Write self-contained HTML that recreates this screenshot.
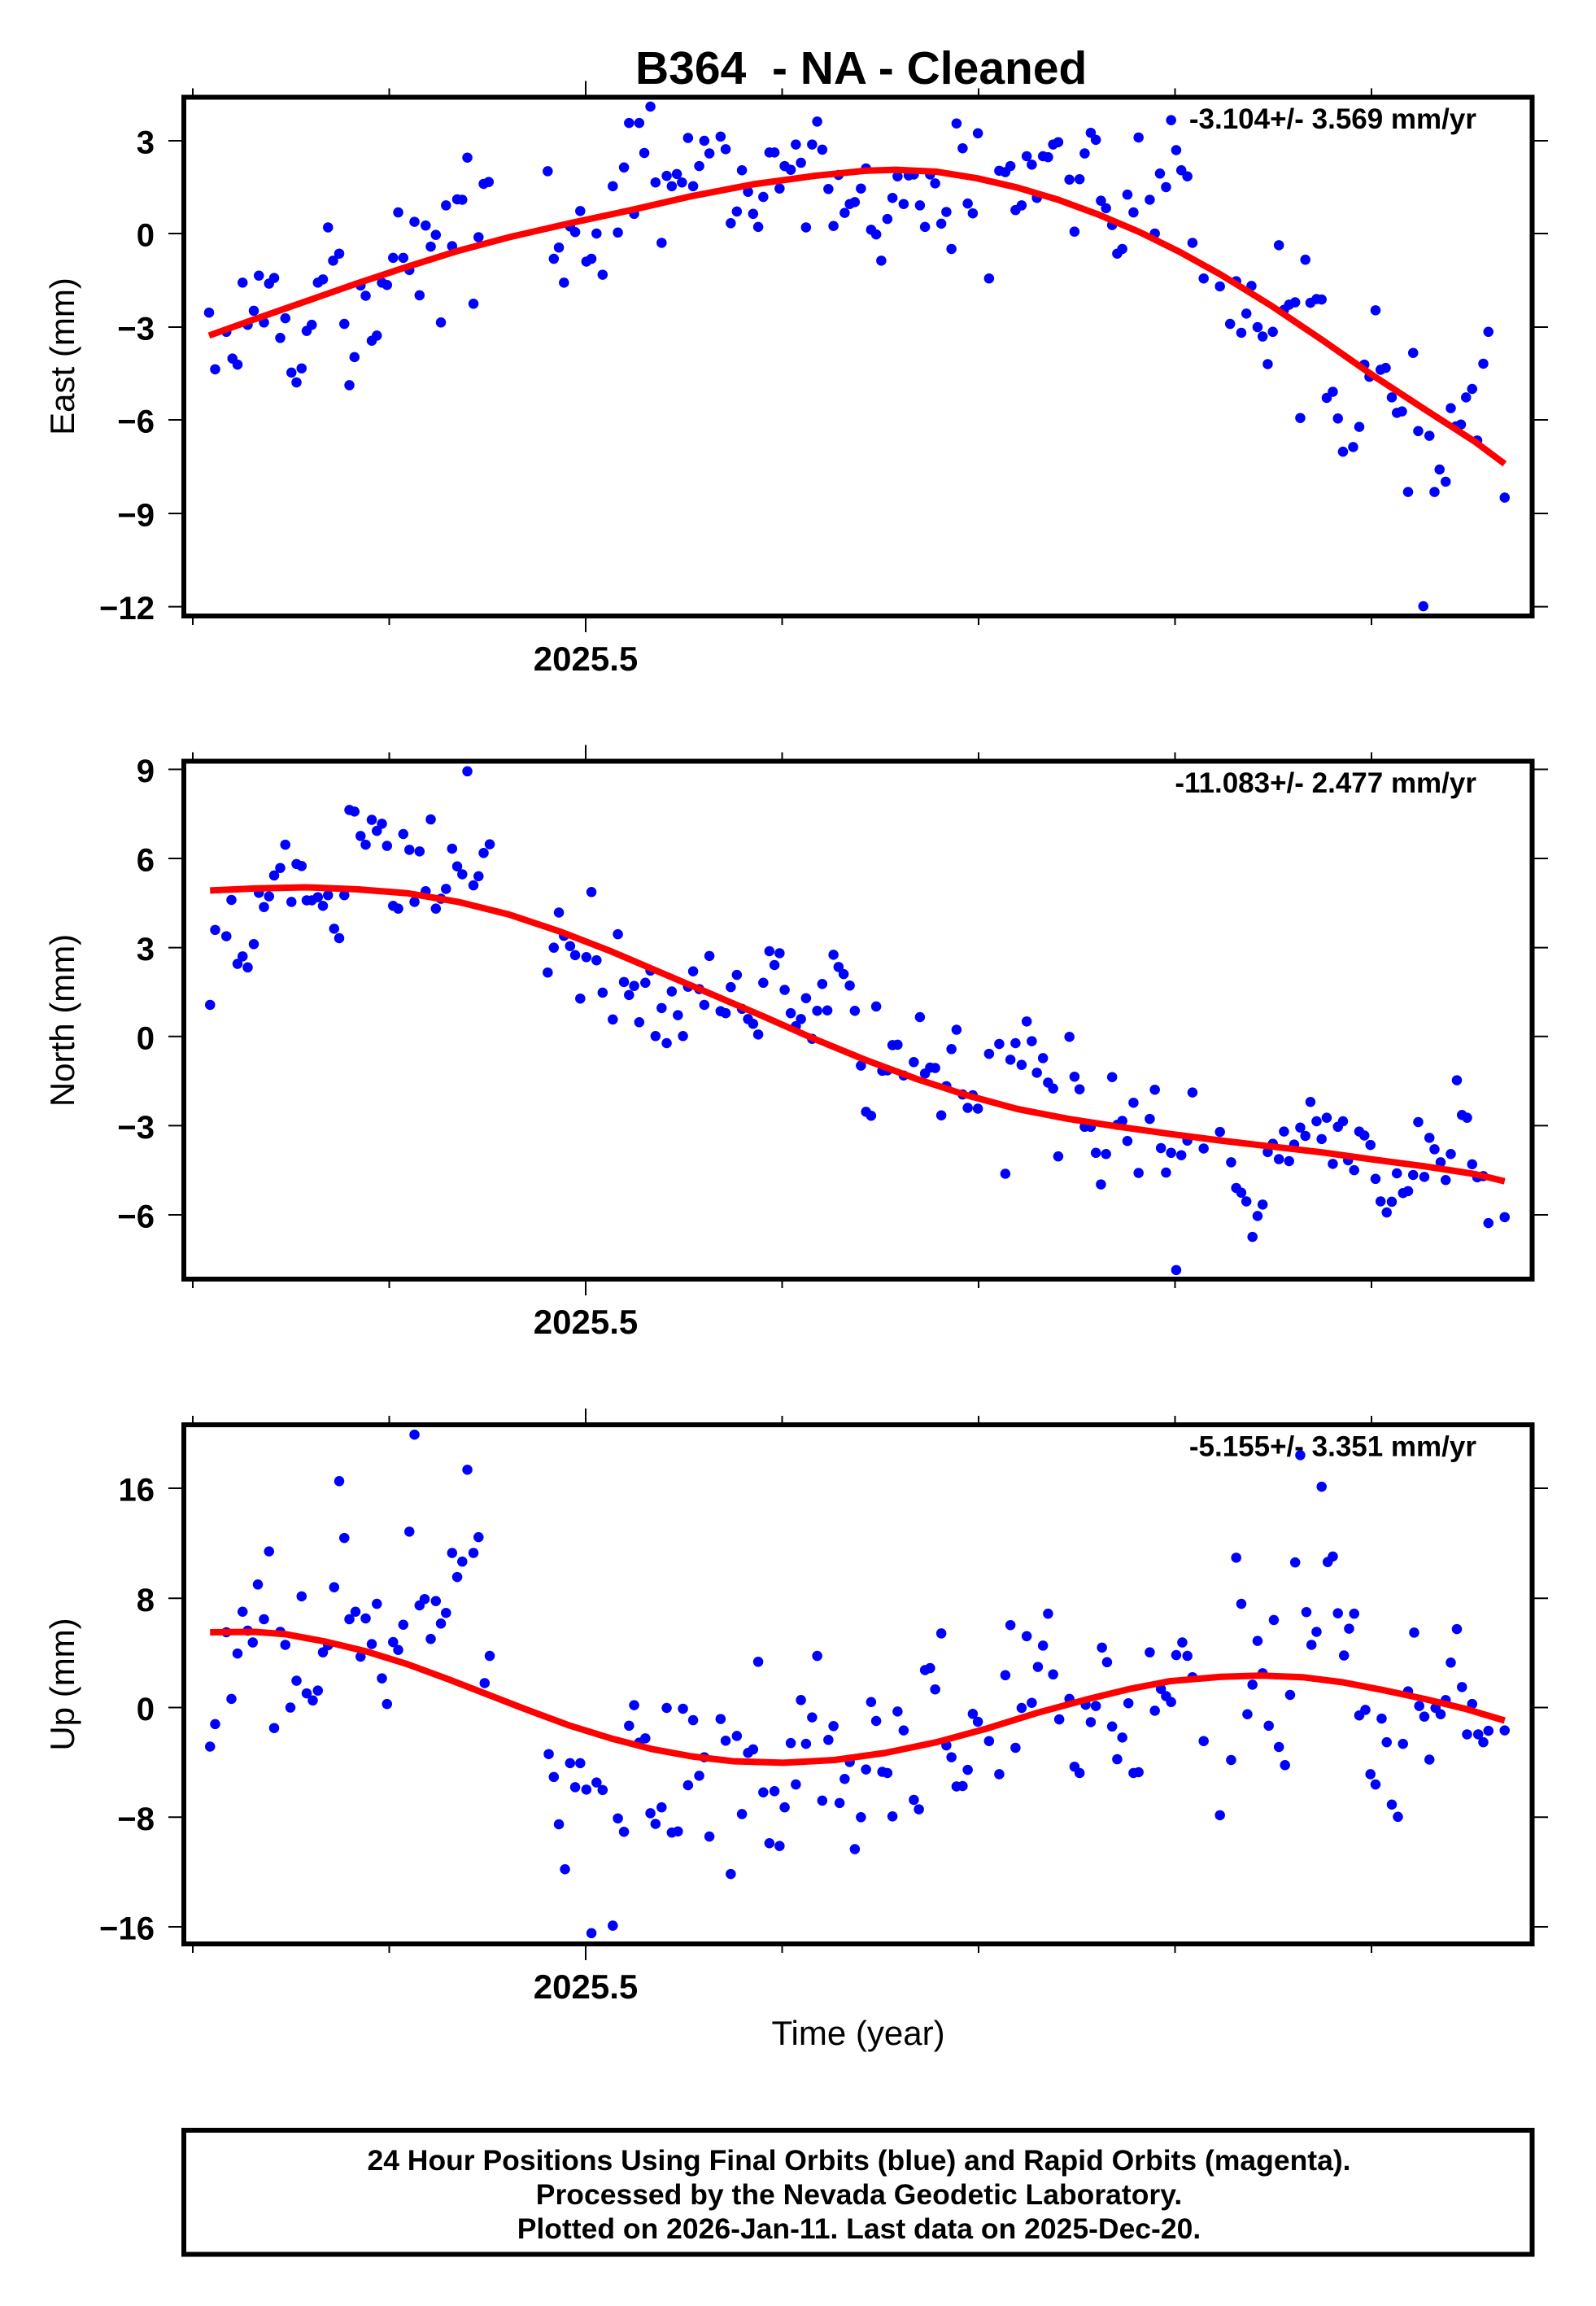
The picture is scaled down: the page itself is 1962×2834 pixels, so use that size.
<!DOCTYPE html>
<html><head><meta charset="utf-8"><style>
html,body{margin:0;padding:0;background:#fff;}
svg{display:block;}
.t{font-family:"Liberation Sans",Arial,sans-serif;font-weight:bold;fill:#000;}
.r{font-family:"Liberation Sans",Arial,sans-serif;font-weight:normal;fill:#000;}
</style></head><body>
<svg xmlns="http://www.w3.org/2000/svg" width="1962" height="2834" viewBox="0 0 1962 2834">
<rect x="0" y="0" width="1962" height="2834" fill="#fff"/>
<defs>
<ellipse id="d1" cx="0" cy="0" rx="5" ry="10.86" fill="#00f"/>
<ellipse id="d2" cx="0" cy="0" rx="5" ry="12.89" fill="#00f"/>
<ellipse id="d3" cx="0" cy="0" rx="5" ry="12.9" fill="#00f"/>
</defs>

<text class="t" x="781" y="103" font-size="57" xml:space="preserve" style="white-space:pre">B364  - NA - Cleaned</text>

<!-- PANEL 1 -->
<g transform="matrix(1.2502 0 0 0.5755 0.7 -0.8)">
<use href="#d1" x="205" y="669"/><use href="#d1" x="211" y="790"/><use href="#d1" x="222" y="710"/><use href="#d1" x="228" y="767"/><use href="#d1" x="233" y="780"/><use href="#d1" x="238" y="605"/><use href="#d1" x="243" y="695"/><use href="#d1" x="249" y="665"/><use href="#d1" x="254" y="590"/><use href="#d1" x="259" y="690"/><use href="#d1" x="264" y="607"/><use href="#d1" x="269" y="595"/><use href="#d1" x="275" y="723"/><use href="#d1" x="280" y="681"/><use href="#d1" x="286" y="797"/><use href="#d1" x="291" y="818"/><use href="#d1" x="296" y="788"/><use href="#d1" x="301" y="708"/><use href="#d1" x="306" y="695"/><use href="#d1" x="312" y="605"/><use href="#d1" x="317" y="598"/><use href="#d1" x="322" y="487"/><use href="#d1" x="327" y="558"/><use href="#d1" x="333" y="543"/><use href="#d1" x="338" y="693"/><use href="#d1" x="343" y="824"/><use href="#d1" x="348" y="764"/><use href="#d1" x="354" y="611"/><use href="#d1" x="359" y="633"/><use href="#d1" x="365" y="729"/><use href="#d1" x="370" y="718"/><use href="#d1" x="375" y="605"/><use href="#d1" x="380" y="610"/><use href="#d1" x="386" y="552"/><use href="#d1" x="391" y="455"/><use href="#d1" x="396" y="552"/><use href="#d1" x="402" y="578"/><use href="#d1" x="407" y="475"/><use href="#d1" x="412" y="632"/><use href="#d1" x="418" y="483"/><use href="#d1" x="423" y="528"/><use href="#d1" x="428" y="503"/><use href="#d1" x="433" y="690"/><use href="#d1" x="438" y="440"/><use href="#d1" x="444" y="527"/><use href="#d1" x="449" y="427"/><use href="#d1" x="454" y="428"/><use href="#d1" x="459" y="338"/><use href="#d1" x="465" y="650"/><use href="#d1" x="470" y="508"/><use href="#d1" x="475" y="394"/><use href="#d1" x="480" y="390"/>
<use href="#d1" x="538" y="367"/><use href="#d1" x="544" y="554"/><use href="#d1" x="549" y="530"/><use href="#d1" x="554" y="605"/><use href="#d1" x="560" y="485"/><use href="#d1" x="565" y="497"/><use href="#d1" x="570" y="452"/><use href="#d1" x="576" y="560"/><use href="#d1" x="581" y="554"/><use href="#d1" x="586" y="500"/><use href="#d1" x="592" y="588"/><use href="#d1" x="602" y="399"/><use href="#d1" x="607" y="498"/><use href="#d1" x="613" y="359"/><use href="#d1" x="618" y="264"/><use href="#d1" x="623" y="458"/><use href="#d1" x="628" y="264"/><use href="#d1" x="633" y="328"/><use href="#d1" x="639" y="229"/><use href="#d1" x="644" y="391"/><use href="#d1" x="650" y="520"/><use href="#d1" x="655" y="377"/><use href="#d1" x="660" y="399"/><use href="#d1" x="665" y="373"/><use href="#d1" x="670" y="391"/><use href="#d1" x="676" y="296"/><use href="#d1" x="681" y="399"/><use href="#d1" x="687" y="356"/><use href="#d1" x="692" y="302"/><use href="#d1" x="697" y="329"/><use href="#d1" x="708" y="293"/><use href="#d1" x="713" y="320"/><use href="#d1" x="718" y="478"/><use href="#d1" x="724" y="453"/><use href="#d1" x="729" y="365"/><use href="#d1" x="735" y="411"/><use href="#d1" x="740" y="458"/><use href="#d1" x="745" y="486"/><use href="#d1" x="750" y="422"/><use href="#d1" x="756" y="327"/><use href="#d1" x="761" y="327"/><use href="#d1" x="766" y="404"/><use href="#d1" x="771" y="356"/><use href="#d1" x="777" y="364"/><use href="#d1" x="782" y="310"/><use href="#d1" x="787" y="349"/><use href="#d1" x="792" y="487"/><use href="#d1" x="798" y="310"/><use href="#d1" x="803" y="261"/><use href="#d1" x="808" y="321"/><use href="#d1" x="814" y="405"/><use href="#d1" x="819" y="484"/><use href="#d1" x="824" y="375"/><use href="#d1" x="830" y="456"/><use href="#d1" x="835" y="437"/><use href="#d1" x="840" y="433"/><use href="#d1" x="846" y="404"/><use href="#d1" x="851" y="361"/><use href="#d1" x="856" y="492"/><use href="#d1" x="861" y="502"/><use href="#d1" x="866" y="558"/><use href="#d1" x="872" y="469"/><use href="#d1" x="877" y="424"/><use href="#d1" x="882" y="378"/><use href="#d1" x="888" y="437"/><use href="#d1" x="893" y="376"/><use href="#d1" x="898" y="374"/><use href="#d1" x="904" y="440"/><use href="#d1" x="909" y="486"/><use href="#d1" x="914" y="374"/><use href="#d1" x="919" y="393"/><use href="#d1" x="925" y="479"/><use href="#d1" x="930" y="454"/><use href="#d1" x="935" y="533"/><use href="#d1" x="940" y="265"/><use href="#d1" x="946" y="318"/><use href="#d1" x="951" y="436"/><use href="#d1" x="956" y="457"/><use href="#d1" x="961" y="286"/><use href="#d1" x="972" y="596"/><use href="#d1" x="982" y="366"/><use href="#d1" x="988" y="369"/><use href="#d1" x="993" y="356"/><use href="#d1" x="998" y="450"/><use href="#d1" x="1004" y="440"/><use href="#d1" x="1009" y="335"/><use href="#d1" x="1014" y="353"/><use href="#d1" x="1019" y="424"/><use href="#d1" x="1025" y="335"/><use href="#d1" x="1030" y="337"/><use href="#d1" x="1035" y="310"/><use href="#d1" x="1040" y="305"/><use href="#d1" x="1051" y="385"/><use href="#d1" x="1056" y="496"/><use href="#d1" x="1061" y="384"/><use href="#d1" x="1066" y="329"/><use href="#d1" x="1072" y="285"/><use href="#d1" x="1077" y="300"/><use href="#d1" x="1082" y="430"/><use href="#d1" x="1087" y="446"/><use href="#d1" x="1093" y="482"/><use href="#d1" x="1098" y="543"/><use href="#d1" x="1103" y="533"/><use href="#d1" x="1108" y="417"/><use href="#d1" x="1114" y="455"/><use href="#d1" x="1119" y="295"/><use href="#d1" x="1130" y="428"/><use href="#d1" x="1135" y="500"/><use href="#d1" x="1140" y="372"/><use href="#d1" x="1146" y="401"/><use href="#d1" x="1151" y="258"/><use href="#d1" x="1156" y="322"/><use href="#d1" x="1161" y="365"/><use href="#d1" x="1167" y="378"/><use href="#d1" x="1172" y="520"/><use href="#d1" x="1183" y="596"/><use href="#d1" x="1199" y="613"/><use href="#d1" x="1209" y="693"/><use href="#d1" x="1215" y="602"/><use href="#d1" x="1220" y="712"/><use href="#d1" x="1225" y="671"/><use href="#d1" x="1230" y="612"/><use href="#d1" x="1236" y="700"/><use href="#d1" x="1241" y="720"/><use href="#d1" x="1246" y="779"/><use href="#d1" x="1251" y="710"/><use href="#d1" x="1257" y="525"/><use href="#d1" x="1262" y="663"/><use href="#d1" x="1267" y="652"/><use href="#d1" x="1273" y="647"/><use href="#d1" x="1278" y="894"/><use href="#d1" x="1283" y="556"/><use href="#d1" x="1288" y="648"/><use href="#d1" x="1294" y="640"/><use href="#d1" x="1299" y="641"/><use href="#d1" x="1304" y="851"/><use href="#d1" x="1310" y="838"/><use href="#d1" x="1315" y="895"/><use href="#d1" x="1320" y="966"/><use href="#d1" x="1330" y="956"/><use href="#d1" x="1336" y="913"/><use href="#d1" x="1341" y="780"/><use href="#d1" x="1346" y="806"/><use href="#d1" x="1352" y="664"/><use href="#d1" x="1357" y="791"/><use href="#d1" x="1362" y="787"/><use href="#d1" x="1368" y="850"/><use href="#d1" x="1373" y="883"/><use href="#d1" x="1378" y="880"/><use href="#d1" x="1384" y="1052"/><use href="#d1" x="1389" y="755"/><use href="#d1" x="1394" y="922"/><use href="#d1" x="1399" y="1296"/><use href="#d1" x="1405" y="932"/><use href="#d1" x="1410" y="1052"/><use href="#d1" x="1415" y="1004"/><use href="#d1" x="1421" y="1030"/><use href="#d1" x="1426" y="873"/><use href="#d1" x="1431" y="912"/><use href="#d1" x="1436" y="908"/><use href="#d1" x="1441" y="850"/><use href="#d1" x="1447" y="832"/><use href="#d1" x="1452" y="942"/><use href="#d1" x="1458" y="778"/><use href="#d1" x="1463" y="710"/><use href="#d1" x="1479" y="1064"/>
<polyline fill="none" stroke="#f00" stroke-width="8" stroke-linejoin="round" vector-effect="non-scaling-stroke" points="205,718 250,683 300,645 350,607 400,571 450,537 500,508 560,478 620,450 680,420 740,395 800,377 850,366 880,364 920,368 960,382 1000,402 1040,428 1080,460 1120,497 1160,540 1200,588 1250,655 1300,728 1350,804 1400,875 1450,945 1479,992"/>
</g>
<rect x="226" y="119.5" width="1657.5" height="637.5" fill="none" stroke="#000" stroke-width="6"/>
<path fill="none" stroke="#000" stroke-width="2" d="M237 108.5V116.5M478.5 108.5V116.5M720 99.5V116.5M961.5 108.5V116.5M1203 108.5V116.5M1444.5 108.5V116.5M1686 108.5V116.5M237 760V768M478.5 760V768M720 760V777M961.5 760V768M1203 760V768M1444.5 760V768M1686 760V768M207 173H223M207 287H223M207 402H223M207 516H223M207 631H223M207 745.6H223M1886.5 173H1903M1886.5 287H1903M1886.5 402H1903M1886.5 516H1903M1886.5 631H1903M1886.5 745.6H1903"/>
<g class="t" font-size="40" text-anchor="end">
<text x="190" y="188.5">3</text><text x="190" y="302.5">0</text><text x="190" y="417.5">−3</text><text x="190" y="531.5">−6</text><text x="190" y="646.5">−9</text><text x="190" y="761">−12</text>
</g>
<text class="t" x="720" y="824" font-size="42" text-anchor="middle">2025.5</text>
<text class="t" x="1815" y="158" font-size="35" text-anchor="end">-3.104+/- 3.569 mm/yr</text>
<text class="r" font-size="42" text-anchor="middle" transform="translate(91 438) rotate(-90)">East (mm)</text>

<!-- PANEL 2 -->
<g transform="matrix(1.2502 0 0 0.4849 0.7 880.5)">
<use href="#d2" x="206" y="731"/><use href="#d2" x="211" y="541"/><use href="#d2" x="222" y="557"/><use href="#d2" x="227" y="465"/><use href="#d2" x="233" y="627"/><use href="#d2" x="238" y="608"/><use href="#d2" x="243" y="636"/><use href="#d2" x="249" y="577"/><use href="#d2" x="254" y="447"/><use href="#d2" x="259" y="483"/><use href="#d2" x="264" y="456"/><use href="#d2" x="269" y="403"/><use href="#d2" x="275" y="384"/><use href="#d2" x="280" y="325"/><use href="#d2" x="286" y="470"/><use href="#d2" x="291" y="374"/><use href="#d2" x="296" y="379"/><use href="#d2" x="301" y="466"/><use href="#d2" x="306" y="466"/><use href="#d2" x="312" y="458"/><use href="#d2" x="317" y="480"/><use href="#d2" x="322" y="453"/><use href="#d2" x="328" y="538"/><use href="#d2" x="333" y="562"/><use href="#d2" x="338" y="453"/><use href="#d2" x="343" y="237"/><use href="#d2" x="348" y="241"/><use href="#d2" x="354" y="303"/><use href="#d2" x="359" y="325"/><use href="#d2" x="365" y="262"/><use href="#d2" x="370" y="290"/><use href="#d2" x="375" y="272"/><use href="#d2" x="380" y="328"/><use href="#d2" x="386" y="480"/><use href="#d2" x="391" y="487"/><use href="#d2" x="396" y="298"/><use href="#d2" x="402" y="338"/><use href="#d2" x="407" y="470"/><use href="#d2" x="412" y="342"/><use href="#d2" x="418" y="443"/><use href="#d2" x="423" y="261"/><use href="#d2" x="428" y="487"/><use href="#d2" x="433" y="462"/><use href="#d2" x="438" y="437"/><use href="#d2" x="444" y="335"/><use href="#d2" x="449" y="380"/><use href="#d2" x="454" y="400"/><use href="#d2" x="459" y="139"/><use href="#d2" x="465" y="428"/><use href="#d2" x="470" y="405"/><use href="#d2" x="475" y="346"/><use href="#d2" x="481" y="324"/>
<use href="#d2" x="538" y="649"/><use href="#d2" x="544" y="586"/><use href="#d2" x="549" y="497"/><use href="#d2" x="554" y="556"/><use href="#d2" x="560" y="582"/><use href="#d2" x="565" y="605"/><use href="#d2" x="570" y="715"/><use href="#d2" x="576" y="610"/><use href="#d2" x="581" y="445"/><use href="#d2" x="586" y="618"/><use href="#d2" x="592" y="700"/><use href="#d2" x="602" y="768"/><use href="#d2" x="607" y="552"/><use href="#d2" x="613" y="673"/><use href="#d2" x="618" y="706"/><use href="#d2" x="623" y="683"/><use href="#d2" x="628" y="775"/><use href="#d2" x="634" y="675"/><use href="#d2" x="639" y="644"/><use href="#d2" x="644" y="810"/><use href="#d2" x="650" y="739"/><use href="#d2" x="655" y="828"/><use href="#d2" x="660" y="697"/><use href="#d2" x="666" y="757"/><use href="#d2" x="671" y="810"/><use href="#d2" x="676" y="685"/><use href="#d2" x="681" y="646"/><use href="#d2" x="687" y="691"/><use href="#d2" x="692" y="731"/><use href="#d2" x="697" y="607"/><use href="#d2" x="708" y="747"/><use href="#d2" x="713" y="752"/><use href="#d2" x="718" y="686"/><use href="#d2" x="724" y="655"/><use href="#d2" x="729" y="741"/><use href="#d2" x="735" y="767"/><use href="#d2" x="740" y="779"/><use href="#d2" x="745" y="806"/><use href="#d2" x="750" y="675"/><use href="#d2" x="756" y="595"/><use href="#d2" x="761" y="630"/><use href="#d2" x="766" y="600"/><use href="#d2" x="771" y="693"/><use href="#d2" x="777" y="752"/><use href="#d2" x="782" y="785"/><use href="#d2" x="787" y="767"/><use href="#d2" x="792" y="714"/><use href="#d2" x="798" y="817"/><use href="#d2" x="803" y="746"/><use href="#d2" x="808" y="678"/><use href="#d2" x="813" y="745"/><use href="#d2" x="819" y="604"/><use href="#d2" x="824" y="635"/><use href="#d2" x="829" y="653"/><use href="#d2" x="835" y="682"/><use href="#d2" x="840" y="746"/><use href="#d2" x="846" y="885"/><use href="#d2" x="851" y="1002"/><use href="#d2" x="856" y="1012"/><use href="#d2" x="861" y="735"/><use href="#d2" x="867" y="898"/><use href="#d2" x="872" y="897"/><use href="#d2" x="877" y="833"/><use href="#d2" x="882" y="832"/><use href="#d2" x="888" y="910"/><use href="#d2" x="898" y="876"/><use href="#d2" x="904" y="762"/><use href="#d2" x="909" y="905"/><use href="#d2" x="914" y="890"/><use href="#d2" x="919" y="891"/><use href="#d2" x="925" y="1011"/><use href="#d2" x="930" y="937"/><use href="#d2" x="935" y="843"/><use href="#d2" x="940" y="794"/><use href="#d2" x="946" y="958"/><use href="#d2" x="951" y="992"/><use href="#d2" x="956" y="960"/><use href="#d2" x="961" y="994"/><use href="#d2" x="972" y="855"/><use href="#d2" x="982" y="830"/><use href="#d2" x="988" y="1159"/><use href="#d2" x="993" y="870"/><use href="#d2" x="998" y="828"/><use href="#d2" x="1004" y="883"/><use href="#d2" x="1009" y="773"/><use href="#d2" x="1014" y="823"/><use href="#d2" x="1019" y="903"/><use href="#d2" x="1025" y="866"/><use href="#d2" x="1030" y="928"/><use href="#d2" x="1035" y="943"/><use href="#d2" x="1040" y="1115"/><use href="#d2" x="1051" y="812"/><use href="#d2" x="1056" y="913"/><use href="#d2" x="1061" y="945"/><use href="#d2" x="1066" y="1040"/><use href="#d2" x="1072" y="1040"/><use href="#d2" x="1077" y="1106"/><use href="#d2" x="1082" y="1186"/><use href="#d2" x="1087" y="1109"/><use href="#d2" x="1093" y="914"/><use href="#d2" x="1098" y="1035"/><use href="#d2" x="1103" y="1025"/><use href="#d2" x="1108" y="1076"/><use href="#d2" x="1114" y="979"/><use href="#d2" x="1119" y="1157"/><use href="#d2" x="1130" y="1020"/><use href="#d2" x="1135" y="946"/><use href="#d2" x="1141" y="1094"/><use href="#d2" x="1146" y="1156"/><use href="#d2" x="1151" y="1106"/><use href="#d2" x="1156" y="1403"/><use href="#d2" x="1161" y="1112"/><use href="#d2" x="1167" y="1075"/><use href="#d2" x="1172" y="953"/><use href="#d2" x="1183" y="1095"/><use href="#d2" x="1199" y="1053"/><use href="#d2" x="1210" y="1130"/><use href="#d2" x="1215" y="1195"/><use href="#d2" x="1220" y="1207"/><use href="#d2" x="1225" y="1229"/><use href="#d2" x="1231" y="1319"/><use href="#d2" x="1236" y="1266"/><use href="#d2" x="1241" y="1237"/><use href="#d2" x="1246" y="1104"/><use href="#d2" x="1251" y="1083"/><use href="#d2" x="1257" y="1122"/><use href="#d2" x="1262" y="1052"/><use href="#d2" x="1267" y="1127"/><use href="#d2" x="1272" y="1085"/><use href="#d2" x="1278" y="1042"/><use href="#d2" x="1283" y="1063"/><use href="#d2" x="1288" y="977"/><use href="#d2" x="1294" y="1026"/><use href="#d2" x="1299" y="1071"/><use href="#d2" x="1304" y="1017"/><use href="#d2" x="1310" y="1134"/><use href="#d2" x="1315" y="1040"/><use href="#d2" x="1320" y="1026"/><use href="#d2" x="1325" y="1125"/><use href="#d2" x="1331" y="1150"/><use href="#d2" x="1336" y="1052"/><use href="#d2" x="1341" y="1062"/><use href="#d2" x="1347" y="1086"/><use href="#d2" x="1352" y="1172"/><use href="#d2" x="1357" y="1229"/><use href="#d2" x="1363" y="1257"/><use href="#d2" x="1368" y="1230"/><use href="#d2" x="1373" y="1158"/><use href="#d2" x="1379" y="1208"/><use href="#d2" x="1384" y="1203"/><use href="#d2" x="1389" y="1162"/><use href="#d2" x="1394" y="1028"/><use href="#d2" x="1400" y="1167"/><use href="#d2" x="1405" y="1068"/><use href="#d2" x="1410" y="1097"/><use href="#d2" x="1416" y="1130"/><use href="#d2" x="1421" y="1175"/><use href="#d2" x="1426" y="1109"/><use href="#d2" x="1432" y="922"/><use href="#d2" x="1437" y="1010"/><use href="#d2" x="1442" y="1017"/><use href="#d2" x="1447" y="1135"/><use href="#d2" x="1452" y="1168"/><use href="#d2" x="1458" y="1165"/><use href="#d2" x="1463" y="1284"/><use href="#d2" x="1479" y="1269"/>
<polyline fill="none" stroke="#f00" stroke-width="8" stroke-linejoin="round" vector-effect="non-scaling-stroke" points="206,441 250,436 300,433 350,438 400,448 450,470 500,502 550,545 600,595 650,650 700,705 750,760 800,817 850,870 900,918 950,960 1000,995 1050,1020 1100,1040 1150,1058 1200,1075 1250,1090 1300,1105 1350,1123 1400,1140 1450,1160 1479,1178"/>
</g>
<rect x="226" y="935.5" width="1657.5" height="636.5" fill="none" stroke="#000" stroke-width="6"/>
<path fill="none" stroke="#000" stroke-width="2" d="M237 924.5V932.5M478.5 924.5V932.5M720 915.5V932.5M961.5 924.5V932.5M1203 924.5V932.5M1444.5 924.5V932.5M1686 924.5V932.5M237 1575V1583M478.5 1575V1583M720 1575V1592M961.5 1575V1583M1203 1575V1583M1444.5 1575V1583M1686 1575V1583M207 945.5H223M207 1055H223M207 1164.6H223M207 1273.8H223M207 1383.4H223M207 1493H223M1886.5 945.5H1903M1886.5 1055H1903M1886.5 1164.6H1903M1886.5 1273.8H1903M1886.5 1383.4H1903M1886.5 1493H1903"/>
<g class="t" font-size="40" text-anchor="end">
<text x="190" y="961">9</text><text x="190" y="1070.5">6</text><text x="190" y="1180">3</text><text x="190" y="1289.3">0</text><text x="190" y="1399">−3</text><text x="190" y="1508.5">−6</text>
</g>
<text class="t" x="720" y="1639" font-size="42" text-anchor="middle">2025.5</text>
<text class="t" x="1815" y="974" font-size="35" text-anchor="end">-11.083+/- 2.477 mm/yr</text>
<text class="r" font-size="42" text-anchor="middle" transform="translate(91 1254) rotate(-90)">North (mm)</text>

<!-- PANEL 3 -->
<g transform="matrix(1.2502 0 0 0.4847 0.7 1700.1)">
<use href="#d3" x="206" y="921"/><use href="#d3" x="211" y="864"/><use href="#d3" x="222" y="631"/><use href="#d3" x="227" y="800"/><use href="#d3" x="233" y="685"/><use href="#d3" x="238" y="579"/><use href="#d3" x="243" y="627"/><use href="#d3" x="248" y="657"/><use href="#d3" x="253" y="510"/><use href="#d3" x="259" y="598"/><use href="#d3" x="264" y="426"/><use href="#d3" x="269" y="874"/><use href="#d3" x="275" y="630"/><use href="#d3" x="280" y="663"/><use href="#d3" x="285" y="822"/><use href="#d3" x="291" y="754"/><use href="#d3" x="296" y="540"/><use href="#d3" x="301" y="786"/><use href="#d3" x="307" y="804"/><use href="#d3" x="312" y="779"/><use href="#d3" x="317" y="682"/><use href="#d3" x="322" y="664"/><use href="#d3" x="328" y="517"/><use href="#d3" x="333" y="248"/><use href="#d3" x="338" y="392"/><use href="#d3" x="343" y="598"/><use href="#d3" x="349" y="579"/><use href="#d3" x="354" y="693"/><use href="#d3" x="359" y="596"/><use href="#d3" x="365" y="661"/><use href="#d3" x="370" y="559"/><use href="#d3" x="375" y="748"/><use href="#d3" x="380" y="813"/><use href="#d3" x="386" y="656"/><use href="#d3" x="391" y="676"/><use href="#d3" x="396" y="612"/><use href="#d3" x="402" y="376"/><use href="#d3" x="407" y="130"/><use href="#d3" x="412" y="563"/><use href="#d3" x="417" y="547"/><use href="#d3" x="423" y="648"/><use href="#d3" x="428" y="552"/><use href="#d3" x="433" y="609"/><use href="#d3" x="438" y="582"/><use href="#d3" x="444" y="430"/><use href="#d3" x="449" y="491"/><use href="#d3" x="454" y="452"/><use href="#d3" x="459" y="219"/><use href="#d3" x="465" y="430"/><use href="#d3" x="470" y="390"/><use href="#d3" x="476" y="760"/><use href="#d3" x="481" y="691"/>
<use href="#d3" x="539" y="940"/><use href="#d3" x="544" y="998"/><use href="#d3" x="549" y="1118"/><use href="#d3" x="555" y="1232"/><use href="#d3" x="560" y="963"/><use href="#d3" x="565" y="1024"/><use href="#d3" x="570" y="963"/><use href="#d3" x="576" y="1030"/><use href="#d3" x="581" y="1394"/><use href="#d3" x="586" y="1012"/><use href="#d3" x="592" y="1031"/><use href="#d3" x="602" y="1375"/><use href="#d3" x="607" y="1103"/><use href="#d3" x="613" y="1137"/><use href="#d3" x="618" y="868"/><use href="#d3" x="623" y="816"/><use href="#d3" x="628" y="911"/><use href="#d3" x="634" y="900"/><use href="#d3" x="639" y="1090"/><use href="#d3" x="644" y="1117"/><use href="#d3" x="650" y="1075"/><use href="#d3" x="655" y="823"/><use href="#d3" x="660" y="1139"/><use href="#d3" x="666" y="1136"/><use href="#d3" x="671" y="825"/><use href="#d3" x="676" y="1019"/><use href="#d3" x="681" y="854"/><use href="#d3" x="687" y="995"/><use href="#d3" x="692" y="948"/><use href="#d3" x="697" y="1149"/><use href="#d3" x="708" y="851"/><use href="#d3" x="713" y="906"/><use href="#d3" x="718" y="1244"/><use href="#d3" x="724" y="894"/><use href="#d3" x="729" y="1092"/><use href="#d3" x="735" y="937"/><use href="#d3" x="740" y="928"/><use href="#d3" x="745" y="706"/><use href="#d3" x="750" y="1037"/><use href="#d3" x="756" y="1166"/><use href="#d3" x="761" y="1034"/><use href="#d3" x="766" y="1173"/><use href="#d3" x="771" y="1075"/><use href="#d3" x="777" y="912"/><use href="#d3" x="782" y="1017"/><use href="#d3" x="787" y="803"/><use href="#d3" x="792" y="914"/><use href="#d3" x="798" y="847"/><use href="#d3" x="803" y="691"/><use href="#d3" x="808" y="1058"/><use href="#d3" x="814" y="904"/><use href="#d3" x="819" y="869"/><use href="#d3" x="825" y="1064"/><use href="#d3" x="830" y="1003"/><use href="#d3" x="835" y="960"/><use href="#d3" x="840" y="1181"/><use href="#d3" x="846" y="1100"/><use href="#d3" x="851" y="979"/><use href="#d3" x="856" y="808"/><use href="#d3" x="861" y="856"/><use href="#d3" x="867" y="985"/><use href="#d3" x="872" y="988"/><use href="#d3" x="877" y="1098"/><use href="#d3" x="882" y="832"/><use href="#d3" x="888" y="880"/><use href="#d3" x="898" y="1056"/><use href="#d3" x="903" y="1080"/><use href="#d3" x="909" y="727"/><use href="#d3" x="914" y="722"/><use href="#d3" x="919" y="776"/><use href="#d3" x="925" y="634"/><use href="#d3" x="930" y="918"/><use href="#d3" x="935" y="948"/><use href="#d3" x="940" y="1022"/><use href="#d3" x="946" y="1021"/><use href="#d3" x="951" y="980"/><use href="#d3" x="956" y="838"/><use href="#d3" x="961" y="858"/><use href="#d3" x="972" y="907"/><use href="#d3" x="982" y="991"/><use href="#d3" x="988" y="740"/><use href="#d3" x="993" y="613"/><use href="#d3" x="998" y="924"/><use href="#d3" x="1004" y="823"/><use href="#d3" x="1009" y="641"/><use href="#d3" x="1014" y="810"/><use href="#d3" x="1020" y="719"/><use href="#d3" x="1025" y="665"/><use href="#d3" x="1030" y="584"/><use href="#d3" x="1035" y="738"/><use href="#d3" x="1041" y="852"/><use href="#d3" x="1051" y="800"/><use href="#d3" x="1056" y="972"/><use href="#d3" x="1061" y="988"/><use href="#d3" x="1067" y="815"/><use href="#d3" x="1072" y="859"/><use href="#d3" x="1077" y="818"/><use href="#d3" x="1083" y="670"/><use href="#d3" x="1088" y="707"/><use href="#d3" x="1093" y="870"/><use href="#d3" x="1098" y="953"/><use href="#d3" x="1103" y="898"/><use href="#d3" x="1109" y="811"/><use href="#d3" x="1114" y="988"/><use href="#d3" x="1119" y="986"/><use href="#d3" x="1130" y="682"/><use href="#d3" x="1135" y="830"/><use href="#d3" x="1141" y="775"/><use href="#d3" x="1146" y="793"/><use href="#d3" x="1151" y="808"/><use href="#d3" x="1156" y="689"/><use href="#d3" x="1162" y="657"/><use href="#d3" x="1167" y="691"/><use href="#d3" x="1172" y="745"/><use href="#d3" x="1183" y="907"/><use href="#d3" x="1199" y="1095"/><use href="#d3" x="1210" y="955"/><use href="#d3" x="1215" y="442"/><use href="#d3" x="1220" y="559"/><use href="#d3" x="1226" y="839"/><use href="#d3" x="1231" y="764"/><use href="#d3" x="1236" y="653"/><use href="#d3" x="1241" y="735"/><use href="#d3" x="1247" y="868"/><use href="#d3" x="1252" y="600"/><use href="#d3" x="1257" y="922"/><use href="#d3" x="1263" y="968"/><use href="#d3" x="1268" y="790"/><use href="#d3" x="1273" y="454"/><use href="#d3" x="1278" y="182"/><use href="#d3" x="1284" y="580"/><use href="#d3" x="1289" y="663"/><use href="#d3" x="1294" y="630"/><use href="#d3" x="1299" y="262"/><use href="#d3" x="1305" y="453"/><use href="#d3" x="1310" y="439"/><use href="#d3" x="1315" y="583"/><use href="#d3" x="1321" y="690"/><use href="#d3" x="1326" y="622"/><use href="#d3" x="1331" y="584"/><use href="#d3" x="1336" y="842"/><use href="#d3" x="1342" y="828"/><use href="#d3" x="1347" y="991"/><use href="#d3" x="1352" y="1017"/><use href="#d3" x="1358" y="850"/><use href="#d3" x="1363" y="910"/><use href="#d3" x="1368" y="1068"/><use href="#d3" x="1374" y="1099"/><use href="#d3" x="1379" y="914"/><use href="#d3" x="1384" y="781"/><use href="#d3" x="1390" y="632"/><use href="#d3" x="1395" y="818"/><use href="#d3" x="1400" y="845"/><use href="#d3" x="1405" y="954"/><use href="#d3" x="1411" y="823"/><use href="#d3" x="1416" y="839"/><use href="#d3" x="1421" y="803"/><use href="#d3" x="1426" y="708"/><use href="#d3" x="1432" y="623"/><use href="#d3" x="1437" y="770"/><use href="#d3" x="1442" y="890"/><use href="#d3" x="1447" y="813"/><use href="#d3" x="1453" y="890"/><use href="#d3" x="1458" y="910"/><use href="#d3" x="1463" y="881"/><use href="#d3" x="1479" y="880"/>
<polyline fill="none" stroke="#f00" stroke-width="8" stroke-linejoin="round" vector-effect="non-scaling-stroke" points="206,631 250,630 280,636 320,655 360,680 400,712 440,750 480,790 520,830 560,868 600,900 640,927 680,946 720,958 770,962 820,955 870,937 920,910 970,875 1020,835 1070,800 1110,775 1150,755 1200,744 1240,741 1280,745 1320,758 1360,778 1400,800 1440,825 1479,855"/>
</g>
<rect x="226" y="1751" width="1657.5" height="638" fill="none" stroke="#000" stroke-width="6"/>
<path fill="none" stroke="#000" stroke-width="2" d="M237 1740V1748M478.5 1740V1748M720 1731V1748M961.5 1740V1748M1203 1740V1748M1444.5 1740V1748M1686 1740V1748M237 2392V2400M478.5 2392V2400M720 2392V2409M961.5 2392V2400M1203 2392V2400M1444.5 2392V2400M1686 2392V2400M207 1829H223M207 1964.3H223M207 2098.5H223M207 2233.3H223M207 2368H223M1886.5 1829H1903M1886.5 1964.3H1903M1886.5 2098.5H1903M1886.5 2233.3H1903M1886.5 2368H1903"/>
<g class="t" font-size="40" text-anchor="end">
<text x="190" y="1844.5">16</text><text x="190" y="1979.8">8</text><text x="190" y="2114">0</text><text x="190" y="2248.8">−8</text><text x="190" y="2383.5">−16</text>
</g>
<text class="t" x="720" y="2456" font-size="42" text-anchor="middle">2025.5</text>
<text class="t" x="1815" y="1789.5" font-size="35" text-anchor="end">-5.155+/- 3.351 mm/yr</text>
<text class="r" font-size="42" text-anchor="middle" transform="translate(91 2070) rotate(-90)">Up (mm)</text>

<text class="r" x="1055" y="2513" font-size="42" text-anchor="middle">Time (year)</text>

<!-- FOOTER -->
<rect x="226" y="2618" width="1657.5" height="152.5" fill="none" stroke="#000" stroke-width="6"/>
<g class="t" font-size="35.5" text-anchor="middle">
<text x="1056" y="2667">24 Hour Positions Using Final Orbits (blue) and Rapid Orbits (magenta).</text>
<text x="1056" y="2709">Processed by the Nevada Geodetic Laboratory.</text>
<text x="1056" y="2751">Plotted on 2026-Jan-11. Last data on 2025-Dec-20.</text>
</g>
</svg>
</body></html>
